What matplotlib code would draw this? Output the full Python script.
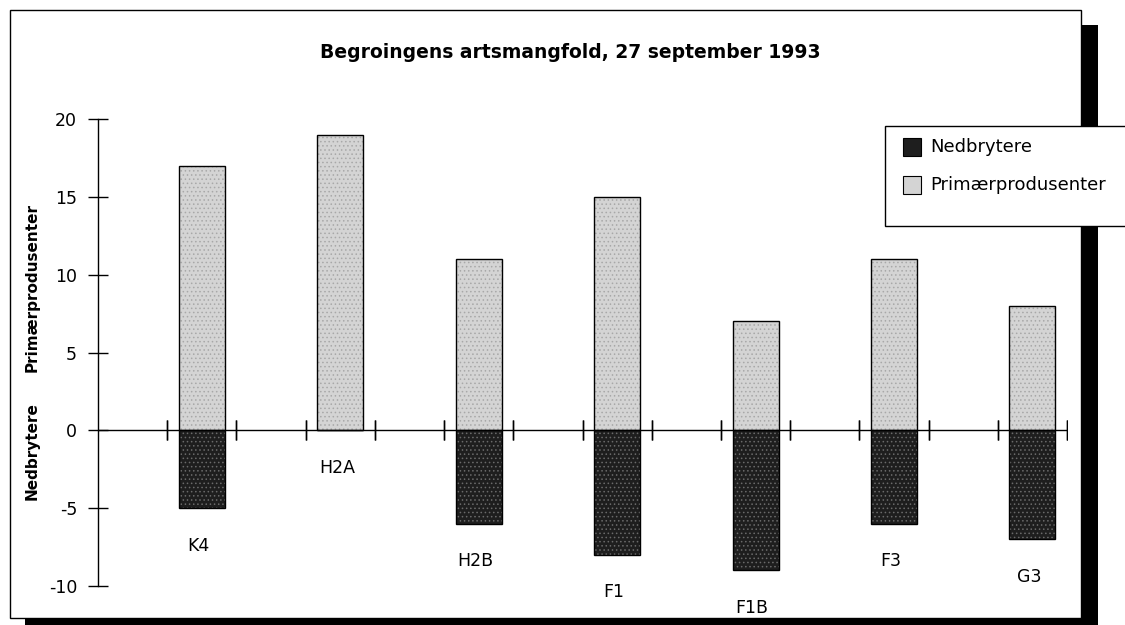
import matplotlib
matplotlib.use("Agg")
import matplotlib.pyplot as plt
from matplotlib.patches import Rectangle

# Stations and species counts (positive = primary producers, negative = decomposers)
stations = ["K4", "H2A", "H2B", "F1", "F1B", "F3", "G3"]
primaerprodusenter = [17, 19, 11, 15, 7, 11, 8]
nedbrytere = [-5, 0, -6, -8, -9, -6, -7]
yticks = [-10, -5, 0, 5, 10, 15, 20]

title = "Begroingens artsmangfold, 27 september 1993"

W, H = 1125, 625
LIGHT = "#d4d4d4"
DARK = "#1e1e1e"
FONT = "DejaVu Sans"
plt.rcParams["hatch.linewidth"] = 0.6

fig = plt.figure(figsize=(W / 100, H / 100), dpi=100)
fig.patch.set_facecolor("white")


def fx(x):
    return x / W


def fy(y):
    return 1 - y / H


# outer frame with a heavy drop shadow
fig.patches.append(Rectangle((fx(1081), fy(640)), fx(17), 615 / H, transform=fig.transFigure,
                             facecolor="black", edgecolor="none", zorder=0))
fig.patches.append(Rectangle((fx(25), fy(640)), fx(1073), 22 / H, transform=fig.transFigure,
                             facecolor="black", edgecolor="none", zorder=0))
fig.patches.append(Rectangle((fx(10), fy(618)), fx(1071), 608 / H, transform=fig.transFigure,
                             facecolor="white", edgecolor="black", lw=1.0, zorder=1))

ax = fig.add_axes([fx(98), fy(586), fx(1067 - 98), (586 - 119) / H])
ax.set_facecolor("none")
ax.set_zorder(2)

n = len(stations)
centers = [2 * i + 1.5 for i in range(n)]
width = 0.665

# stippled fills, then crisp black outlines on top
ax.bar(centers, primaerprodusenter, width=width, color=LIGHT, edgecolor="#a8a8a8",
       hatch="....", lw=0, zorder=3)
ax.bar(centers, nedbrytere, width=width, color=DARK, edgecolor="#6a6a6a",
       hatch="....", lw=0, zorder=3)
ax.bar(centers, primaerprodusenter, width=width, fill=False, edgecolor="black", lw=1.0, zorder=4)
ax.bar(centers, nedbrytere, width=width, fill=False, edgecolor="black", lw=1.0, zorder=4)

ax.set_xlim(0, 2 * n)
ax.set_ylim(-10, 20)

for s in ["top", "right", "bottom"]:
    ax.spines[s].set_visible(False)
ax.spines["left"].set_linewidth(1.0)

# zero line with crossing ticks
ax.axhline(0, color="black", lw=1.0, zorder=2)
for k in range(1, 2 * n + 1):
    ax.plot([k, k], [0, 0], marker="|", markersize=14, color="black", mew=1.0, zorder=2)

ax.set_xticks([])
ax.set_yticks(yticks)
ax.set_yticklabels([str(v) for v in yticks], fontsize=12.5, family=FONT)
ax.tick_params(axis="y", direction="inout", length=14, width=1.0, pad=8)

# station names below each column
for c, neg, name in zip(centers, nedbrytere, stations):
    ax.annotate(name, (c - 0.05, neg), xytext=(0, -27), textcoords="offset points",
                ha="center", va="center", fontsize=12.5, family=FONT)

fig.text(fx(570), fy(52), title, ha="center", va="center", fontsize=13.5,
         fontweight="bold", family=FONT)

fig.text(fx(32), fy(288), "Primærprodusenter", rotation=90, ha="center", va="center",
         fontsize=11, fontweight="bold", family=FONT)
fig.text(fx(32), fy(451), "Nedbrytere", rotation=90, ha="center", va="center",
         fontsize=11, fontweight="bold", family=FONT)

# legend box running off the right edge
fig.patches.append(Rectangle((fx(885), fy(226)), fx(300), 100 / H, transform=fig.transFigure,
                             facecolor="white", edgecolor="black", lw=1.0, zorder=5))
fig.patches.append(Rectangle((fx(903), fy(156)), fx(18), 18 / H, transform=fig.transFigure,
                             facecolor=DARK, edgecolor="black", lw=0.8, zorder=6))
fig.patches.append(Rectangle((fx(903), fy(194)), fx(18), 18 / H, transform=fig.transFigure,
                             facecolor=LIGHT, edgecolor="black", lw=0.8, zorder=6))
fig.text(fx(930), fy(147), "Nedbrytere", ha="left", va="center", fontsize=13,
         family=FONT, zorder=7)
fig.text(fx(930), fy(185), "Primærprodusenter", ha="left", va="center", fontsize=13,
         family=FONT, zorder=7)

fig.savefig("out.png", dpi=100)
